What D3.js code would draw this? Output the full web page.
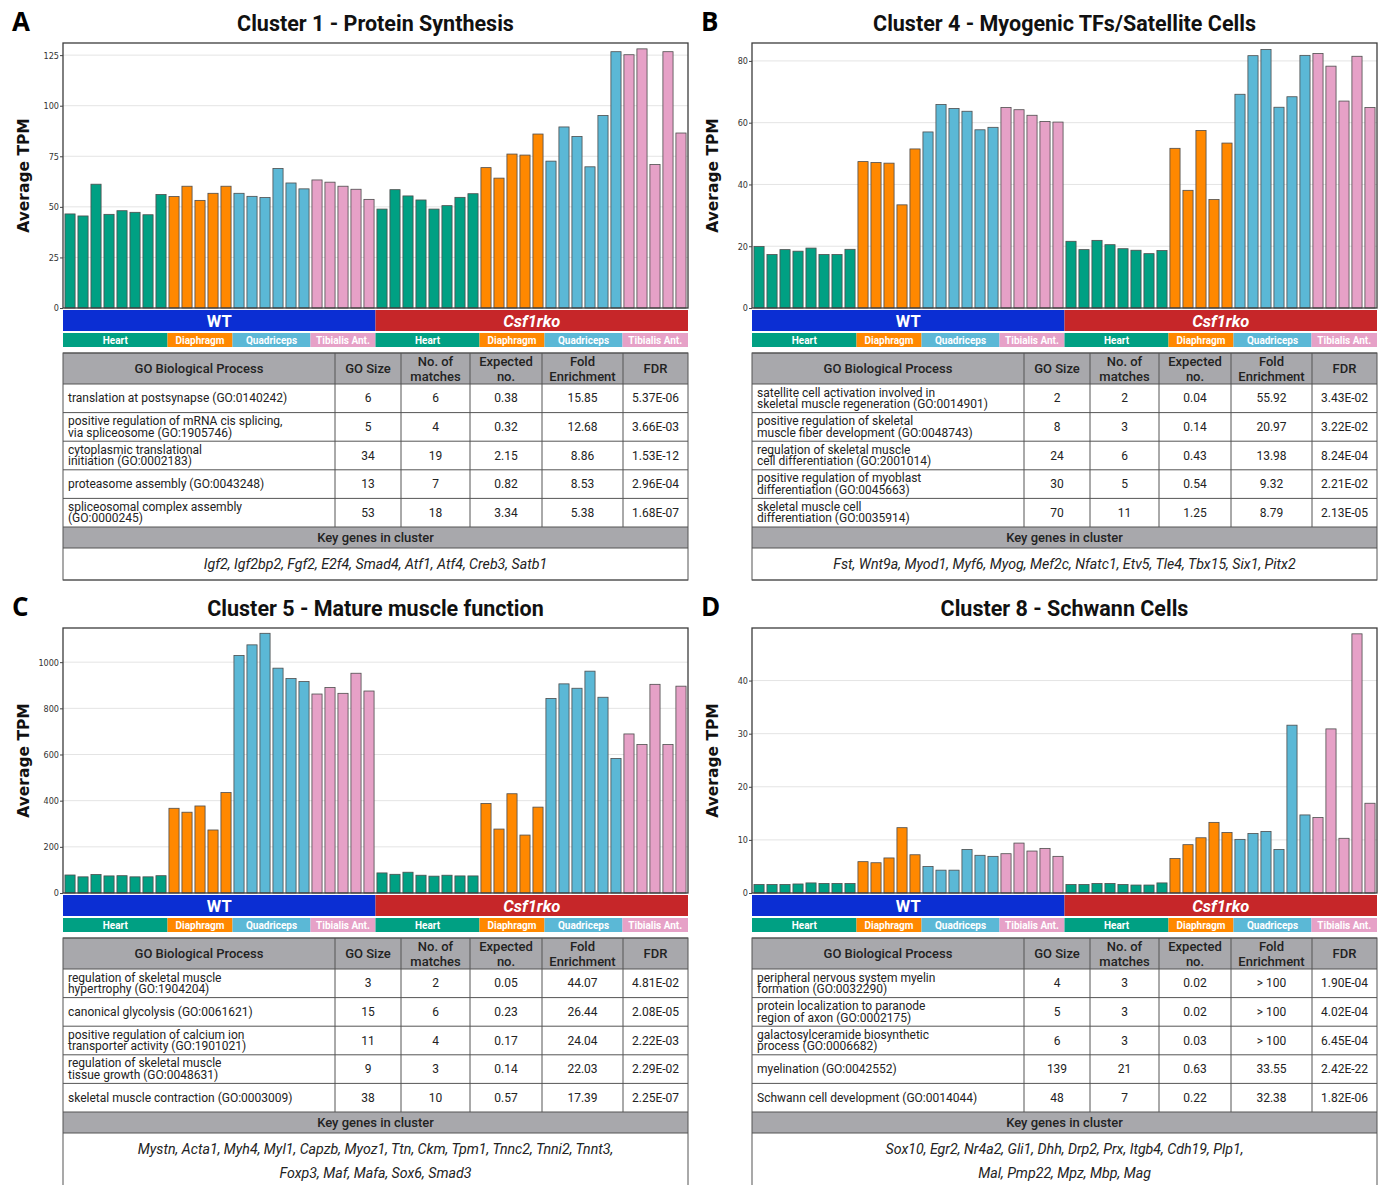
<!DOCTYPE html>
<html>
<head>
<meta charset="utf-8">
<script src="https://cdn.jsdelivr.net/npm/d3@7"></script>
<style>
  body { margin: 0; background: #fff; }
  svg text { font-family: Roboto, "Open Sans", sans-serif; }
</style>
</head>
<body>
<div id="chart"></div>
<script>

// ---- data ----
const groups = ["WT", "Csf1rko"];
const tissues = ["Heart", "Diaphragm", "Quadriceps", "Tibialis Ant."];
const tissueCounts = [8, 5, 6, 5];
const tissueColors = ["#00a083", "#ff8800", "#5bb8d6", "#e6a1c7"];
const groupColors = ["#0b2ed3", "#c62629"];

const tableHeaders = ["GO Biological Process", "GO Size", "No. of\nmatches", "Expected\nno.", "Fold\nEnrichment", "FDR"];

const cluster1Values = [46.5, 45.5, 61.2, 46.3, 48.1, 47.3, 46.1, 56.1,
  55.1, 60.2, 53.2, 56.7, 60.2,
  56.7, 55.2, 54.6, 69.0, 61.8, 58.9,
  63.3, 62.2, 60.2, 58.7, 53.7,
  48.9, 58.5, 55.4, 53.4, 48.9, 50.6, 54.7, 56.5,
  69.4, 64.2, 76.1, 75.6, 86.0,
  72.6, 89.5, 84.8, 69.8, 95.2, 126.7,
  125.2, 128.1, 70.9, 126.7, 86.5];
const cluster1Ticks = [0, 25, 50, 75, 100, 125];

const cluster4Values = [19.9, 17.3, 18.9, 18.4, 19.4, 17.3, 17.3, 19.0,
  47.4, 47.1, 46.9, 33.4, 51.5,
  57.0, 65.9, 64.6, 63.7, 57.7, 58.5,
  64.9, 64.2, 62.4, 60.4, 60.2,
  21.6, 18.9, 21.9, 20.5, 19.2, 18.7, 17.6, 18.6,
  51.7, 38.1, 57.5, 35.1, 53.4,
  69.2, 81.7, 83.7, 65.0, 68.4, 81.8,
  82.4, 78.3, 67.0, 81.5, 64.9];
const cluster4Ticks = [0, 20, 40, 60, 80];

const cluster5Values = [78, 70, 80, 74, 75, 70, 70, 75,
  367, 350, 377, 273, 435,
  1029, 1075, 1125, 974, 929, 916,
  862, 890, 865, 952, 875,
  87, 81, 90, 77, 73, 77, 74, 74,
  388, 277, 430, 251, 372,
  843, 906, 887, 961, 848, 583,
  689, 643, 904, 643, 896];
const cluster5Ticks = [0, 200, 400, 600, 800, 1000];

const cluster8Values = [1.6, 1.6, 1.6, 1.7, 1.9, 1.8, 1.8, 1.8,
  5.9, 5.7, 6.6, 12.3, 7.2,
  5.0, 4.3, 4.3, 8.2, 7.1, 6.9,
  7.4, 9.4, 7.9, 8.4, 6.9,
  1.6, 1.6, 1.8, 1.8, 1.6, 1.5, 1.5, 1.9,
  6.5, 9.1, 10.4, 13.3, 11.4,
  10.1, 11.2, 11.6, 8.2, 31.6, 14.7,
  14.2, 30.9, 10.3, 48.8, 16.9];
const cluster8Ticks = [0, 10, 20, 30, 40];

const cluster1Rows = [
  ["translation at postsynapse (GO:0140242)", "6", "6", "0.38", "15.85", "5.37E-06"],
  ["positive regulation of mRNA cis splicing,\nvia spliceosome (GO:1905746)", "5", "4", "0.32", "12.68", "3.66E-03"],
  ["cytoplasmic translational\ninitiation (GO:0002183)", "34", "19", "2.15", "8.86", "1.53E-12"],
  ["proteasome assembly (GO:0043248)", "13", "7", "0.82", "8.53", "2.96E-04"],
  ["spliceosomal complex assembly\n(GO:0000245)", "53", "18", "3.34", "5.38", "1.68E-07"]
];
const cluster4Rows = [
  ["satellite cell activation involved in\nskeletal muscle regeneration (GO:0014901)", "2", "2", "0.04", "55.92", "3.43E-02"],
  ["positive regulation of skeletal\nmuscle fiber development (GO:0048743)", "8", "3", "0.14", "20.97", "3.22E-02"],
  ["regulation of skeletal muscle\ncell differentiation (GO:2001014)", "24", "6", "0.43", "13.98", "8.24E-04"],
  ["positive regulation of myoblast\ndifferentiation (GO:0045663)", "30", "5", "0.54", "9.32", "2.21E-02"],
  ["skeletal muscle cell\ndifferentiation (GO:0035914)", "70", "11", "1.25", "8.79", "2.13E-05"]
];
const cluster5Rows = [
  ["regulation of skeletal muscle\nhypertrophy (GO:1904204)", "3", "2", "0.05", "44.07", "4.81E-02"],
  ["canonical glycolysis (GO:0061621)", "15", "6", "0.23", "26.44", "2.08E-05"],
  ["positive regulation of calcium ion\ntransporter activity (GO:1901021)", "11", "4", "0.17", "24.04", "2.22E-03"],
  ["regulation of skeletal muscle\ntissue growth (GO:0048631)", "9", "3", "0.14", "22.03", "2.29E-02"],
  ["skeletal muscle contraction (GO:0003009)", "38", "10", "0.57", "17.39", "2.25E-07"]
];
const cluster8Rows = [
  ["peripheral nervous system myelin\nformation (GO:0032290)", "4", "3", "0.02", "> 100", "1.90E-04"],
  ["protein localization to paranode\nregion of axon (GO:0002175)", "5", "3", "0.02", "> 100", "4.02E-04"],
  ["galactosylceramide biosynthetic\nprocess (GO:0006682)", "6", "3", "0.03", "> 100", "6.45E-04"],
  ["myelination (GO:0042552)", "139", "21", "0.63", "33.55", "2.42E-22"],
  ["Schwann cell development (GO:0014044)", "48", "7", "0.22", "32.38", "1.82E-06"]
];

const cluster1Genes = ["Igf2, Igf2bp2, Fgf2, E2f4, Smad4, Atf1, Atf4, Creb3, Satb1"];
const cluster4Genes = ["Fst, Wnt9a, Myod1, Myf6, Myog, Mef2c, Nfatc1, Etv5, Tle4, Tbx15, Six1, Pitx2"];
const cluster5Genes = ["Mystn, Acta1, Myh4, Myl1, Capzb, Myoz1, Ttn, Ckm, Tpm1, Tnnc2, Tnni2, Tnnt3,",
  "Foxp3, Maf, Mafa, Sox6, Smad3"];
const cluster8Genes = ["Sox10, Egr2, Nr4a2, Gli1, Dhh, Drp2, Prx, Itgb4, Cdh19, Plp1,",
  "Mal, Pmp22, Mpz, Mbp, Mag"];

// sample list: group x tissue x replicate
const samples = [];
groups.forEach(function(g, gi) {
  tissues.forEach(function(t, ti) {
    for (let k = 0; k < tissueCounts[ti]; k++) {
      samples.push({ group: gi, tissue: ti });
    }
  });
});

// ---- canvas ----
const width = 1387;
const height = 1185;

const svg = d3.select("#chart")
  .append("svg")
  .attr("width", width)
  .attr("height", height);

const panels = [
  { letter: "A", title: "Cluster 1 - Protein Synthesis", values: cluster1Values, ticks: cluster1Ticks, yMax: 131, x: 63, y: 0, rows: cluster1Rows, genes: cluster1Genes },
  { letter: "B", title: "Cluster 4 - Myogenic TFs/Satellite Cells", values: cluster4Values, ticks: cluster4Ticks, yMax: 85.8, x: 752, y: 0, rows: cluster4Rows, genes: cluster4Genes },
  { letter: "C", title: "Cluster 5 - Mature muscle function", values: cluster5Values, ticks: cluster5Ticks, yMax: 1148, x: 63, y: 585, rows: cluster5Rows, genes: cluster5Genes },
  { letter: "D", title: "Cluster 8 - Schwann Cells", values: cluster8Values, ticks: cluster8Ticks, yMax: 49.9, x: 752, y: 585, rows: cluster8Rows, genes: cluster8Genes }
];

const plotW = 625;
const colEdges = [0, 272, 338, 407, 479, 560, 625];

panels.forEach(drawPanel);

function drawPanel(p) {
  const g = svg.append("g");
  const top = p.y + 43;
  const bottom = p.y + 308;
  const left = p.x;
  const right = p.x + plotW;

  // panel letter + title
  g.append("text")
    .attr("x", left - 51)
    .attr("y", p.y + 31)
    .style("font-family", "'Open Sans', sans-serif")
    .style("font-weight", 700)
    .style("font-size", "26px")
    .text(p.letter);

  g.append("text")
    .attr("x", (left + right) / 2)
    .attr("y", p.y + 31)
    .attr("text-anchor", "middle")
    .style("font-weight", 700)
    .style("font-size", "21.5px")
    .attr("fill", "#111")
    .text(p.title);

  // scales
  const xScale = d3.scaleBand()
    .domain(d3.range(samples.length))
    .range([left, right])
    .paddingInner(0.22)
    .paddingOuter(0.15);

  const yScale = d3.scaleLinear()
    .domain([0, p.yMax])
    .range([bottom, top]);

  // gridlines
  g.selectAll(".grid")
    .data(p.ticks.filter(function(t) { return t > 0; }))
    .enter()
    .append("line")
      .attr("x1", left)
      .attr("x2", right)
      .attr("y1", function(d) { return yScale(d); })
      .attr("y2", function(d) { return yScale(d); })
      .attr("stroke", "#e4e4e4")
      .attr("stroke-width", 1);

  // bars
  g.selectAll(".bar")
    .data(p.values)
    .enter()
    .append("rect")
      .attr("x", function(d, i) { return xScale(i); })
      .attr("y", function(d) { return yScale(d); })
      .attr("width", xScale.bandwidth())
      .attr("height", function(d) { return bottom - yScale(d); })
      .attr("fill", function(d, i) { return tissueColors[samples[i].tissue]; })
      .attr("stroke", "#4d4d4d")
      .attr("stroke-width", 0.8);

  // frame
  g.append("rect")
    .attr("x", left)
    .attr("y", top)
    .attr("width", plotW)
    .attr("height", bottom - top)
    .attr("fill", "none")
    .attr("stroke", "#3c3c3c")
    .attr("stroke-width", 1.3);

  // y axis
  const yAxis = g.append("g")
    .attr("transform", `translate(${left},0)`)
    .call(d3.axisLeft(yScale).tickValues(p.ticks).tickFormat(d3.format("d")).tickSize(3).tickPadding(1));
  yAxis.select(".domain").remove();
  yAxis.selectAll("line").attr("stroke", "#444");
  yAxis.selectAll("text")
    .style("font-family", "'Liberation Sans Narrow', 'DejaVu Sans Condensed', sans-serif")
    .style("font-size", "9px")
    .attr("fill", "#333");

  g.append("text")
    .attr("transform", `translate(${left - 34},${(top + bottom) / 2}) rotate(-90)`)
    .attr("text-anchor", "middle")
    .style("font-family", "'DejaVu Sans', sans-serif")
    .style("font-weight", 700)
    .style("font-size", "15.5px")
    .attr("fill", "#111")
    .text("Average TPM");

  // group band (WT / Csf1rko)
  const half = samples.length / 2;
  const mid = (xScale(half - 1) + xScale.bandwidth() + xScale(half)) / 2;
  groups.forEach(function(name, gi) {
    const x0 = gi === 0 ? left : mid;
    const x1 = gi === 0 ? mid : right;
    g.append("rect")
      .attr("x", x0).attr("y", bottom + 2)
      .attr("width", x1 - x0).attr("height", 21)
      .attr("fill", groupColors[gi]);
    g.append("text")
      .attr("x", (x0 + x1) / 2)
      .attr("y", bottom + 18.5)
      .attr("text-anchor", "middle")
      .attr("fill", "#fff")
      .style("font-weight", 700)
      .style("font-style", gi === 1 ? "italic" : "normal")
      .style("font-size", "16.5px")
      .text(name);
  });

  // tissue strip
  let start = 0;
  groups.forEach(function(name, gi) {
    tissues.forEach(function(t, ti) {
      const first = start;
      const last = start + tissueCounts[ti] - 1;
      const gap = (xScale.step() - xScale.bandwidth()) / 2;
      const x0 = first === 0 ? left : xScale(first) - gap;
      const x1 = last === samples.length - 1 ? right : xScale(last) + xScale.bandwidth() + gap;
      g.append("rect")
        .attr("x", x0).attr("y", bottom + 25)
        .attr("width", x1 - x0).attr("height", 14)
        .attr("fill", tissueColors[ti]);
      g.append("text")
        .attr("x", (x0 + x1) / 2)
        .attr("y", bottom + 35.5)
        .attr("text-anchor", "middle")
        .attr("fill", "#fff")
        .style("font-weight", 700)
        .style("font-size", "10px")
        .text(t);
      start += tissueCounts[ti];
    });
  });

  // table
  const tTop = bottom + 45;
  const headH = 31;
  const rowH = 28.6;
  const keyH = 21;
  const geneH = p.genes.length > 1 ? 60 : 32;
  const rowsTop = tTop + headH;
  const keyTop = rowsTop + rowH * p.rows.length;
  const geneTop = keyTop + keyH;

  g.append("rect")
    .attr("x", left).attr("y", tTop)
    .attr("width", plotW).attr("height", headH)
    .attr("fill", "#a8a8ac");
  g.append("rect")
    .attr("x", left).attr("y", keyTop)
    .attr("width", plotW).attr("height", keyH)
    .attr("fill", "#a8a8ac");

  // header text
  tableHeaders.forEach(function(h, ci) {
    const cx = left + (colEdges[ci] + colEdges[ci + 1]) / 2;
    const lines = h.split("\n");
    lines.forEach(function(line, li) {
      g.append("text")
        .attr("x", cx)
        .attr("y", tTop + (lines.length === 1 ? 20 : 12.5 + li * 15))
        .attr("text-anchor", "middle")
        .attr("fill", "#222")
        .style("font-size", "13px")
        .style("font-weight", 500)
        .text(line);
    });
  });

  // rows
  p.rows.forEach(function(row, ri) {
    const ry = rowsTop + ri * rowH;
    row.forEach(function(cell, ci) {
      const lines = cell.split("\n");
      lines.forEach(function(line, li) {
        const ty = ry + rowH / 2 + 4 + (lines.length === 1 ? 0 : (li - 0.5) * 11.5);
        g.append("text")
          .attr("x", ci === 0 ? left + 5 : left + (colEdges[ci] + colEdges[ci + 1]) / 2)
          .attr("y", ty)
          .attr("text-anchor", ci === 0 ? "start" : "middle")
          .attr("fill", "#222")
          .style("font-size", "12px")
          .text(line);
      });
    });
  });

  // key genes
  g.append("text")
    .attr("x", (left + right) / 2)
    .attr("y", keyTop + 15)
    .attr("text-anchor", "middle")
    .attr("fill", "#222")
    .style("font-size", "13px")
    .style("font-weight", 500)
    .text("Key genes in cluster");

  p.genes.forEach(function(line, li) {
    g.append("text")
      .attr("x", (left + right) / 2)
      .attr("y", geneTop + 21 + li * 23.5)
      .attr("text-anchor", "middle")
      .attr("fill", "#222")
      .style("font-size", "14.2px")
      .style("font-style", "italic")
      .text(line);
  });

  // table lines
  const lineColor = "#555";
  const hLines = [tTop, rowsTop];
  p.rows.forEach(function(r, ri) { hLines.push(rowsTop + (ri + 1) * rowH); });
  hLines.push(geneTop, geneTop + geneH);
  g.selectAll(".hline")
    .data(hLines)
    .enter()
    .append("line")
      .attr("x1", left).attr("x2", right)
      .attr("y1", function(d) { return d; })
      .attr("y2", function(d) { return d; })
      .attr("stroke", lineColor)
      .attr("stroke-width", 1);

  g.selectAll(".vline")
    .data(colEdges.slice(1, -1))
    .enter()
    .append("line")
      .attr("x1", function(d) { return left + d; })
      .attr("x2", function(d) { return left + d; })
      .attr("y1", tTop).attr("y2", keyTop)
      .attr("stroke", lineColor)
      .attr("stroke-width", 1);

  g.append("rect")
    .attr("x", left).attr("y", tTop)
    .attr("width", plotW).attr("height", geneTop + geneH - tTop)
    .attr("fill", "none")
    .attr("stroke", lineColor)
    .attr("stroke-width", 1);
}

</script>
</body>
</html>
